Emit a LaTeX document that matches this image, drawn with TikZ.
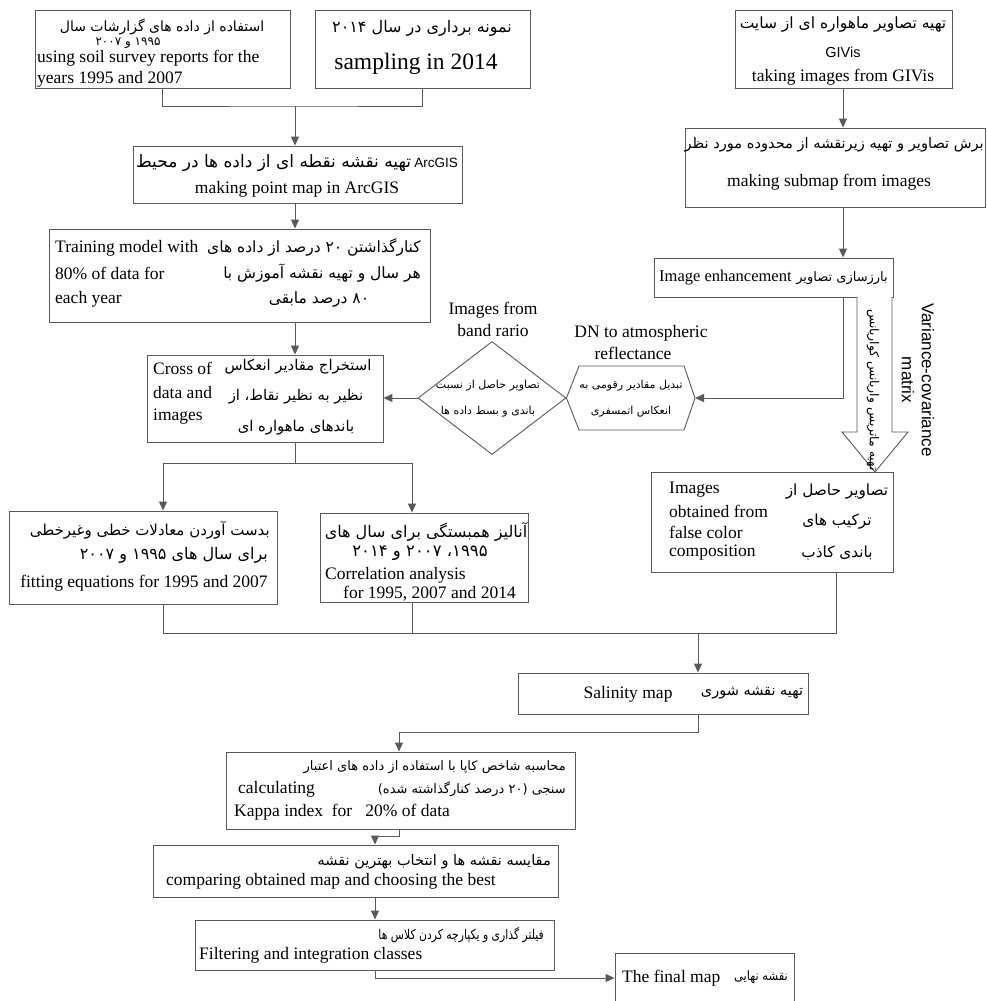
\documentclass[tikz,border=0pt]{standalone}
\usepackage{fontspec}
\usepackage{graphicx}
\setmainfont{Liberation Serif}
\newfontfamily\arabicfont[Script=Arabic]{DejaVu Sans}
\newfontfamily\sansf{Liberation Sans}
\TeXXeTstate=1
\usetikzlibrary{arrows.meta,shapes.geometric,fit,shadows}
\definecolor{lc}{HTML}{595959}
\newcommand\FA[1]{{\arabicfont\beginR #1\endR}}
\newcommand\fsz[1]{\fontsize{#1}{#1}\selectfont}
\tikzset{
 box/.style={draw=lc, line width=0.9pt, fill=white, inner sep=0pt, drop shadow={shadow xshift=1.3pt, shadow yshift=-1.3pt, fill=black!22}},
 shp/.style={draw=lc, line width=0.9pt, fill=white, inner sep=0pt},
 ln/.style={draw=lc, line width=1pt},
 arr/.style={ln, -{Triangle[length=9pt,width=8pt]}},
 en/.style={inner sep=0pt, font=\fontsize{17.5}{21}\selectfont},
 fa/.style={inner sep=0pt, font=\fsz{13}},
}
\newcommand\mkbox[3]{\node[box, fit={#2 #3}] (#1) {};}
\begin{document}
\begin{tikzpicture}[x=1pt,y=-1pt]
\useasboundingbox (0,0) rectangle (987,1001);
% ---------- boxes
\mkbox{A}{(35,10)}{(290,88)}
\mkbox{B}{(315,10)}{(530,88)}
\mkbox{C}{(133,146)}{(462,203)}
\mkbox{D}{(49,229)}{(430,322)}
\mkbox{E}{(147,355)}{(383,442)}
\mkbox{J}{(735,10)}{(952,88)}
\mkbox{I}{(685,128)}{(985,207)}
\mkbox{H}{(654,258)}{(893,297)}
\mkbox{G}{(651,472)}{(893,572)}
\mkbox{F1}{(9,511)}{(277,604)}
\mkbox{F2}{(320,513)}{(528,602)}
\mkbox{S}{(518,673)}{(808,714)}
\mkbox{K}{(226,752)}{(575,829)}
\mkbox{M}{(153,845)}{(558,897)}
\mkbox{L}{(195,920)}{(554,970)}
\mkbox{Z}{(615,953)}{(794,1012)}
\node[shp, diamond, minimum width=148pt, minimum height=113pt] (dia) at (492,398) {};
\coordinate (hexR) at (695,398);
\draw[shp] (dia.east) -- (579,366) -- (684,366) -- (hexR) -- (684,430) -- (579,430) -- cycle;
% block arrow
\draw[shp] (857,297) -- (857,432) -- (842,432) -- (875,472) -- (908,432) -- (892,432) -- (892,297);
% ---------- texts
\node[fa, font=\fsz{14}] (tA1) at (162,27) {\FA{استفاده از داده های گزارشات سال}};
\node[fa, font=\fsz{12}] (tA2) at (128,43) {\FA{۱۹۹۵ و ۲۰۰۷}};
\node[en, anchor=west] (tA3) at (37,58) {using soil survey reports for the};
\node[en, anchor=west] (tA4) at (37,79) {years 1995 and 2007};
\node[fa, font=\fsz{16}] (tB1) at (422,28) {\FA{نمونه برداری در سال ۲۰۱۴}};
\node[en, font=\fontsize{23.5}{28}\selectfont] (tB2) at (416,64) {sampling in 2014};
\node[fa] (tC1) at (297,163) {{\fsz{17}\FA{تهیه نقشه نقطه ای از داده ها در محیط}} {\sansf\fsz{13.5}ArcGIS}};
\node[en] (tC2) at (297,189) {making point map in ArcGIS};
\node[en, anchor=west] (tD1) at (55,248) {Training model with};
\node[en, anchor=west] (tD2) at (55,273) {80\% of data for};
\node[en, anchor=west] (tD3) at (55,299) {each year};
\node[fa, font=\fsz{15.5}, anchor=east] (tD4) at (421,247) {\FA{کنارگذاشتن ۲۰ درصد از داده های}};
\node[fa, font=\fsz{15.5}, anchor=east] (tD5) at (421,273) {\FA{هر سال و تهیه نقشه آموزش با}};
\node[fa, font=\fsz{15.5}] (tD6) at (319,299) {\FA{۸۰ درصد مابقی}};
\node[en, anchor=west] (tE1) at (153,368) {Cross of};
\node[en, anchor=west] (tE2) at (153,393) {data and};
\node[en, anchor=west] (tE3) at (153,417) {images};
\node[fa, font=\fsz{14.8}] (tE4) at (298,367) {\FA{استخراج مقادیر انعکاس}};
\node[fa, font=\fsz{14.8}] (tE5) at (296,397) {\FA{نظیر به نظیر نقاط، از}};
\node[fa, font=\fsz{14.8}] (tE6) at (296,428) {\FA{باندهای ماهواره ای}};
\node[fa, font=\fsz{11}] (tdia1) at (488,386) {\FA{تصاویر حاصل از نسبت}};
\node[fa, font=\fsz{11}] (tdia2) at (488,412) {\FA{باندی و بسط داده ها}};
\node[en] (ldia1) at (493,310) {Images from};
\node[en] (ldia2) at (493,331) {band rario};
\node[en] (lhex1) at (641,333) {DN to atmospheric};
\node[en] (lhex2) at (633,353) {reflectance};
\node[fa, font=\fsz{11}] (thex1) at (631,386) {\FA{تبدیل مقادیر رقومی به}};
\node[fa, font=\fsz{11}] (thex2) at (631,412) {\FA{انعکاس اتمسفری}};
\node[fa, font=\fsz{15.5}] (tJ1) at (843,25) {\FA{تهیه تصاویر ماهواره ای از سایت}};
\node[inner sep=0pt, font=\sansf\fsz{14.5}] (tJ2) at (843,52) {GIVis};
\node[en] (tJ3) at (843,77) {taking images from GIVis};
\node[fa, font=\fsz{14.6}, anchor=east] (tI1) at (984,145) {\FA{برش تصاویر و تهیه زیرنقشه از محدوده مورد نظر}};
\node[en] (tI2) at (829,182) {making submap from images};
\node[en, font=\fontsize{16.5}{20}\selectfont, anchor=west] (tH1) at (659,278) {Image enhancement};
\node[fa, font=\fsz{13}, anchor=east] (tH2) at (888,278) {\FA{بارزسازی تصاویر}};
\node[fa, font=\fsz{12.4}, rotate=-90] (tarr) at (873,390) {\FA{تهیه ماتریس واریانس کواریانس}};
\node[inner sep=0pt, font=\sansf\fontsize{17}{20}\selectfont, rotate=-90, align=center] (tvar) at (918,380) {Variance-covariance\\matrix};
\node[en, anchor=west] (tG1) at (669,490) {Images};
\node[en, anchor=west] (tG2) at (669,511) {obtained from};
\node[en, anchor=west] (tG3) at (669,532) {false color};
\node[en, anchor=west] (tG4) at (669,553) {composition};
\node[fa, font=\fsz{15.3}] (tG5) at (837,492) {\FA{تصاویر حاصل از}};
\node[fa, font=\fsz{15.3}] (tG6) at (837,522) {\FA{ترکیب های}};
\node[fa, font=\fsz{15.3}] (tG7) at (837,553) {\FA{باندی کاذب}};
\node[fa, font=\fsz{15}, anchor=east] (tF1a) at (270,530) {\FA{بدست آوردن معادلات خطی وغیرخطی}};
\node[fa, font=\fsz{16}, anchor=east] (tF1b) at (268,555) {\FA{برای سال های ۱۹۹۵ و ۲۰۰۷}};
\node[en] (tF1c) at (144,583) {fitting equations for 1995 and 2007};
\node[fa, font=\fsz{16}] (tF2a) at (426,532) {\FA{آنالیز همبستگی برای سال های}};
\node[fa, font=\fsz{16.5}] (tF2b) at (420,553) {\FA{۱۹۹۵\kern0pt، ۲۰۰۷ و ۲۰۱۴}};
\node[en, anchor=west] (tF2c) at (325,575) {Correlation analysis};
\node[en, anchor=west] (tF2d) at (343,594) {for 1995, 2007 and 2014};
\node[en] (tS1) at (628,694) {Salinity map};
\node[fa, font=\fsz{14.5}] (tS2) at (752,693) {\FA{تهیه نقشه شوری}};
\node[fa, font=\fsz{13}, anchor=east] (tK1) at (566,767) {\FA{محاسبه شاخص کاپا با استفاده از داده های اعتبار}};
\node[fa, font=\fsz{13}, anchor=east] (tK2) at (566,789) {\FA{سنجی (\kern0pt۲۰ درصد کنارگذاشته شده\kern0pt)}};
\node[en, anchor=west] (tK3) at (238,789) {calculating};
\node[en, anchor=west] (tK4) at (234,812) {Kappa index\ \ for\ \ \ 20\% of data};
\node[fa, font=\fsz{14.5}, anchor=east] (tM1) at (551,862) {\FA{مقایسه نقشه ها و انتخاب بهترین نقشه}};
\node[en, anchor=west] (tM2) at (166,881) {comparing obtained map and choosing the best};
\node[fa, font=\fsz{13.5}, anchor=east] (tL1) at (544,935) {\scalebox{0.8}[1]{\FA{فیلتر گذاری و یکپارچه کردن کلاس ها}}};
\node[en, anchor=west] (tL2) at (199,955) {Filtering and integration classes};
\node[en, anchor=west] (tZ1) at (622,978) {The final map};
\node[fa, font=\fsz{13}, anchor=east] (tZ2) at (788,977) {\scalebox{0.88}[1]{\FA{نقشه نهایی}}};
% ---------- connectors
\coordinate (j1) at (295,106);
\draw[ln] (A.south) |- (j1) -| (B.south);
\draw[arr] (j1) -- (j1 |- C.north);
\draw[arr] (j1 |- C.south) -- (j1 |- D.north);
\draw[arr] (j1 |- D.south) -- (j1 |- E.north);
\coordinate (j2) at (295,463);
\coordinate (j2L) at (163,463);
\coordinate (j2R) at (412,463);
\draw[ln] (j1 |- E.south) -- (j2);
\draw[ln] (j2L) -- (j2R);
\draw[arr] (j2L) -- (j2L |- F1.north);
\draw[arr] (j2R) -- (j2R |- F2.north);
\draw[arr] (dia.west) -- (dia.west -| E.east);
\coordinate (r1) at (843,0);
\draw[arr] (r1 |- J.south) -- (r1 |- I.north);
\draw[arr] (r1 |- I.south) -- (r1 |- H.north);
\coordinate (h1) at (843,398);
\draw[arr] (h1 |- H.south) -- (h1) -- (hexR);
\coordinate (m1) at (163,633);
\coordinate (m2) at (412,633);
\coordinate (m3) at (836,633);
\coordinate (m4) at (698,633);
\draw[ln] (m1 |- F1.south) -- (m1) -- (m3) -- (m3 |- G.south);
\draw[ln] (m2 |- F2.south) -- (m2);
\draw[arr] (m4) -- (m4 |- S.north);
\coordinate (k1) at (698,732);
\coordinate (k2) at (399,732);
\draw[arr] (k1 |- S.south) -- (k1) -- (k2) -- (k2 |- K.north);
\coordinate (c1) at (399,836);
\coordinate (c2) at (375,836);
\draw[arr] (c1 |- K.south) -- (c1) -- (c2) -- (c2 |- M.north);
\draw[arr] (c2 |- M.south) -- (c2 |- L.north);
\coordinate (f1) at (375,978);
\draw[arr] (f1 |- L.south) -- (f1) -- (f1 -| Z.west);
\end{tikzpicture}
\end{document}
